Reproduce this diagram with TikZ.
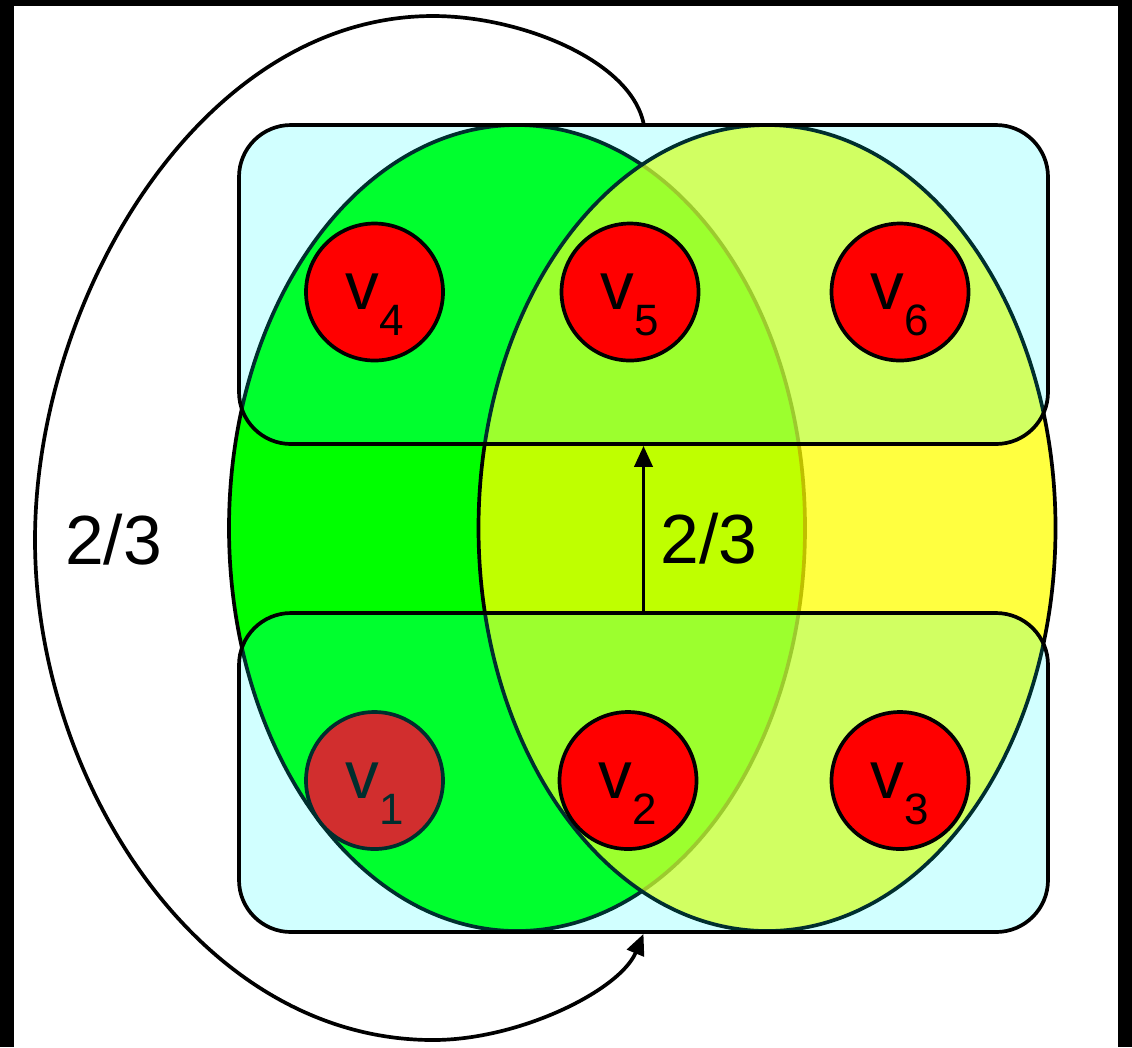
\documentclass[tikz,border=0pt]{standalone}
\usepackage{fontspec}
\setmainfont{Liberation Sans}
\usepackage{tikz}
\usetikzlibrary{positioning, arrows.meta}

\definecolor{hgreen}{HTML}{00FF00}
\definecolor{hyellow}{HTML}{FFFF00}
\definecolor{hcyan}{HTML}{00FFFF}
\definecolor{vred}{HTML}{FF0000}

\newcommand{\vsub}[1]{v\raisebox{-7.4pt}[0pt][0pt]{\fontsize{12.5}{13}\selectfont #1}}

\begin{document}
\begin{tikzpicture}[
    line width=1.05pt,
    >={Triangle[length=0.21cm, width=0.18cm]},
    vertex/.style={circle, draw=black, fill=vred, minimum size=1.37cm, inner sep=0pt,
                   font=\fontsize{19.2}{20}\selectfont},
    group/.style={draw=black, fill=hcyan, fill opacity=0.18, text opacity=1,
                  rounded corners=0.52cm, minimum width=8.09cm, minimum height=3.19cm},
    weight/.style={font=\fontsize{19.8}{20}\selectfont}
]

% Frame
\fill[black] (0, 0) rectangle (11.32, -10.47);
\fill[white] (0.14, -0.06) rectangle (11.18, -10.47);

% Hyperedges (ellipses)
\draw[fill=hgreen] (5.17, -5.28) ellipse [x radius=2.88, y radius=4.03];
\draw[fill=hyellow, fill opacity=0.75] (7.67, -5.28) ellipse [x radius=2.885, y radius=4.03];

% Vertex lying under the lower group
\node[vertex] (v1) at (3.745, -7.805) {\vsub{1}};

% Groups of vertices
\node[group] (top) at (6.435, -2.845) {};
\node[group] (bot) at (6.435, -7.725) {};

% Remaining vertices
\node[vertex] (v4) at (3.745, -2.92) {\vsub{4}};
\node[vertex] (v5) at (6.30, -2.92) {\vsub{5}};
\node[vertex] (v6) at (9.00, -2.92) {\vsub{6}};
\node[vertex] (v2) at (6.28, -7.805) {\vsub{2}};
\node[vertex] (v3) at (9.00, -7.805) {\vsub{3}};

% Weighted links between the groups
\draw[->] (bot.north) -- (top.south);
\node[weight] (w1) at (7.09, -5.39) {2/3};

\draw[->] (top.north) .. controls (6.30, -0.60) and (5.20, -0.16) .. (4.33, -0.16)
    .. controls (2.00, -0.16) and (0.35, -3.00) .. (0.35, -5.40)
    .. controls (0.35, -7.80) and (2.00, -10.40) .. (4.33, -10.40)
    .. controls (5.20, -10.40) and (6.20, -9.90) .. (bot.south);
\node[weight] (w2) at (1.135, -5.40) {2/3};

\end{tikzpicture}
\end{document}
